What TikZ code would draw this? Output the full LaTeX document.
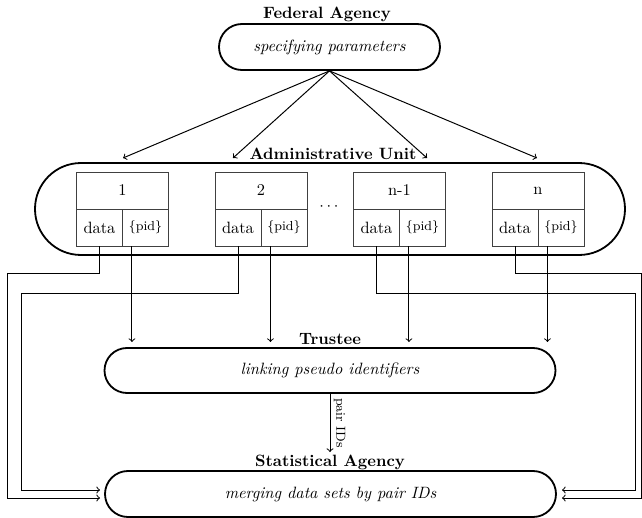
\documentclass[tikz,border=0pt]{standalone}
\usetikzlibrary{calc}
\begin{document}
\begin{tikzpicture}[x=0.61pt,y=-0.61pt,
  stadium/.style={draw,line width=1.1pt,inner sep=0pt,align=center,font=\itshape},
  cell/.style={draw=black!75,line width=0.55pt,inner sep=0pt,minimum height=22.6pt},
  title/.style={font=\bfseries,inner sep=1pt},
  conn/.style={line width=0.6pt},
  arr/.style={conn,->}]
\useasboundingbox (0,0) rectangle (642,518);

% Federal agency
\node[title] (fat) at (327,14) {Federal Agency};
\node[stadium,minimum width=134.8pt,minimum height=28.06pt,rounded corners=14pt] (fa) at (329.5,47) {specifying parameters};

% Administrative unit
\node[title] (aut) at (333,154) {Administrative Unit};
\node[stadium,minimum width=359.9pt,minimum height=56.1pt,rounded corners=28pt] (au) at (330,209) {};

\foreach \cx/\lab/\nm in {122.5/1/b1, 261/2/b2, 399.5/n-1/b3, 538/n/b4}{
  \node[cell,minimum width=56.1pt] (\nm t) at (\cx,190.5) {\lab};
  \node[cell,minimum width=28.06pt] (\nm d) at (\cx-23,227.5) {data};
  \node[cell,minimum width=28.06pt,font=\footnotesize] (\nm p) at (\cx+23,227.5) {\{pid\}};
}
\node (dots) at (329,207) {$\cdots$};

% arrows from federal agency
\coordinate (a1) at (123,158);
\coordinate (a2) at (233,158);
\coordinate (a3) at (427,158);
\coordinate (a4) at (537,158);
\foreach \t in {a1,a2,a3,a4}{
  \draw[arr] (fa.south) -- (\t);
}

% Trustee
\node[title] (trt) at (330,339) {Trustee};
\node[stadium,minimum width=275.1pt,minimum height=27.45pt,rounded corners=13.7pt] (tr) at (330,370.5) {linking pseudo identifiers};

% Statistical agency
\node[title] (sat) at (330,462) {Statistical Agency};
\node[stadium,minimum width=275.1pt,minimum height=28.06pt,rounded corners=14pt] (sa) at (330.5,494) {merging data sets by pair IDs};

% pid arrows to trustee
\coordinate (ty) at (0,342);
\foreach \nm in {b1,b2,b3,b4}{
  \coordinate (\nm x) at ($(\nm d.south east)+(9,0)$);
  \draw[arr] (\nm x) -- (\nm x |- ty);
}

% pair IDs
\coordinate (pe) at (330,452);
\draw[arr] (tr.south -| pe) -- (pe) node[midway,right=0pt,font=\footnotesize,rotate=-90,anchor=south,inner sep=2pt] {pair IDs};

% data lines to statistical agency
\coordinate (L1) at (7,273);
\coordinate (E1) at (100,498);
\coordinate (L2) at (21,293);
\coordinate (E2) at (100,490);
\coordinate (R3) at (635,293);
\coordinate (F3) at (562,490);
\coordinate (R4) at (641,273);
\coordinate (F4) at (562,498);
\draw[arr] (b1d.south) |- (L1) |- (E1);
\draw[arr] (b2d.south) |- (L2) |- (E2);
\draw[arr] (b3d.south) |- (R3) |- (F3);
\draw[arr] (b4d.south) |- (R4) |- (F4);
\end{tikzpicture}
\end{document}
